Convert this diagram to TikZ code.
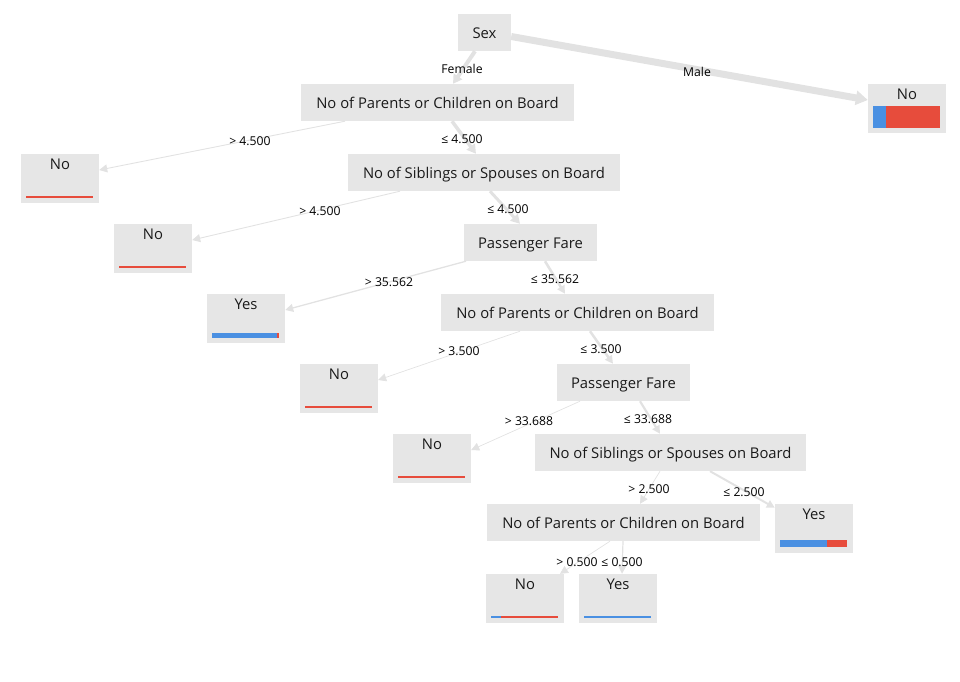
\documentclass[tikz,border=0pt]{standalone}
\usepackage{fontspec}
\setmainfont{Open Sans}
\usetikzlibrary{arrows.meta}
\definecolor{boxgray}{HTML}{E6E6E6}
\definecolor{edgegray}{HTML}{E2E2E2}
\definecolor{barblue}{HTML}{4A90E2}
\definecolor{barred}{HTML}{E74C3C}
\definecolor{txt}{HTML}{1A1A1A}
\tikzset{
  split/.style={fill=boxgray, draw=none, inner sep=0pt, minimum height=37pt, text=txt, text height=12.5pt, text depth=1pt, font=\fontsize{14.8}{17}\selectfont},
  leafbox/.style={fill=boxgray, draw=none, inner sep=0pt, minimum width=78pt, minimum height=49pt},
  leaftitle/.style={anchor=north, inner sep=0pt, text=txt, font=\fontsize{14.8}{17}\selectfont},
  elabel/.style={inner sep=0pt, text=black, font=\fontsize{12.2}{14}\selectfont},
  conn/.style={draw=edgegray, -{Triangle[length=8pt,width=8pt]}},
}
\begin{document}
\begin{tikzpicture}[x=1pt,y=-1pt]
\useasboundingbox (0,0) rectangle (960,681);
% split nodes
\node[split, minimum width=53pt] (sex) at (484.5,32.5) {Sex};
\node[split, minimum width=273pt] (n1) at (437.5,102.5) {No of Parents or Children on Board};
\node[split, minimum width=272pt] (n2) at (484,172.5) {No of Siblings or Spouses on Board};
\node[split, minimum width=133pt] (n3) at (530.5,242.5) {Passenger Fare};
\node[split, minimum width=273pt] (n4) at (577.5,312.5) {No of Parents or Children on Board};
\node[split, minimum width=133pt] (n5) at (623.5,382.5) {Passenger Fare};
\node[split, minimum width=271pt] (n6) at (670.5,452.5) {No of Siblings or Spouses on Board};
\node[split, minimum width=273pt] (n7) at (623.5,522.5) {No of Parents or Children on Board};
% leaves
\node[leafbox] (lm) at (907,108.5) {};
\node[leafbox] (l1) at (60,178.5) {};
\node[leafbox] (l2) at (153,248.5) {};
\node[leafbox] (l3) at (246,318.5) {};
\node[leafbox] (l4) at (339,388.5) {};
\node[leafbox] (l5) at (432,458.5) {};
\node[leafbox] (l6) at (814,528.5) {};
\node[leafbox] (l7) at (525,598.5) {};
\node[leafbox] (l8) at (618,598.5) {};
\node[leaftitle] (tm) at ([yshift=-4.5pt]lm.north) {No};
\node[leaftitle] (t1) at ([yshift=-4.5pt]l1.north) {No};
\node[leaftitle] (t2) at ([yshift=-4.5pt]l2.north) {No};
\node[leaftitle] (t3) at ([yshift=-4.5pt]l3.north) {Yes};
\node[leaftitle] (t4) at ([yshift=-4.5pt]l4.north) {No};
\node[leaftitle] (t5) at ([yshift=-4.5pt]l5.north) {No};
\node[leaftitle] (t6) at ([yshift=-4.5pt]l6.north) {Yes};
\node[leaftitle] (t7) at ([yshift=-4.5pt]l7.north) {No};
\node[leaftitle] (t8) at ([yshift=-4.5pt]l8.north) {Yes};
% bars
\fill[barblue] (873,106) rectangle (886,128);
\fill[barred] (886,106) rectangle (940,128);
\fill[barred] (26,196.2) rectangle (93,198);
\fill[barred] (119,266.2) rectangle (186,268);
\fill[barblue] (212,333) rectangle (277,338);
\fill[barred] (277,333) rectangle (278.5,338);
\fill[barred] (305,406.2) rectangle (372,408);
\fill[barred] (398,476.2) rectangle (465,478);
\fill[barblue] (780,540) rectangle (827,547);
\fill[barred] (827,540) rectangle (847,547);
\fill[barblue] (491,615.8) rectangle (501,617.5);
\fill[barred] (501,615.8) rectangle (558,617.5);
\fill[barblue] (584,616) rectangle (651,617.5);
% connectors
\draw[conn, line width=4pt, -{Triangle[length=9pt,width=10pt]}] ([xshift=-9.5pt]sex.south) -- ([xshift=15.5pt]n1.north);
\draw[conn, line width=7pt, -{Triangle[length=12pt,width=14pt]}] ([yshift=-4pt]sex.east) -- ([yshift=8.5pt]lm.west);
\draw[conn, line width=0.9pt] ([xshift=-92.5pt]n1.south) -- ([yshift=8.5pt]l1.east);
\draw[conn, line width=3.5pt, -{Triangle[length=9pt,width=10pt]}] ([xshift=14.5pt]n1.south) -- ([xshift=-8pt]n2.north);
\draw[conn, line width=0.9pt] ([xshift=-84pt]n2.south) -- ([yshift=8.5pt]l2.east);
\draw[conn, line width=3pt, -{Triangle[length=9pt,width=10pt]}] ([xshift=6pt]n2.south) -- ([xshift=-10.5pt]n3.north);
\draw[conn, line width=1.3pt] ([xshift=-64.5pt]n3.south) -- ([yshift=8.5pt]l3.east);
\draw[conn, line width=2.6pt] ([xshift=14.5pt]n3.south) -- ([xshift=-12.5pt]n4.north);
\draw[conn, line width=0.7pt] ([xshift=-57.5pt]n4.south) -- ([yshift=8.5pt]l4.east);
\draw[conn, line width=2.5pt] ([xshift=12.5pt]n4.south) -- ([xshift=-10.5pt]n5.north);
\draw[conn, line width=0.7pt] ([xshift=-43.5pt]n5.south) -- ([yshift=8.5pt]l5.east);
\draw[conn, line width=2.2pt] ([xshift=16.5pt]n5.south) -- ([xshift=-10.5pt]n6.north);
\draw[conn, line width=0.7pt] ([xshift=-10.5pt]n6.south) -- ([xshift=16.5pt]n7.north);
\draw[conn, line width=2pt] ([xshift=39.5pt]n6.south) -- ([yshift=-4pt]l6.north west);
\draw[conn, line width=0.7pt] ([xshift=-13.5pt]n7.south) -- ([xshift=35pt]l7.north);
\draw[conn, line width=1.2pt] ([xshift=-0.5pt]n7.south) -- ([xshift=4pt]l8.north);
% edge labels
\node[elabel] (e0) at (462,69) {Female};
\node[elabel] (em) at (697,72) {Male};
\node[elabel] (e1) at (250,141) {> 4.500};
\node[elabel] (e2) at (462,139) {≤ 4.500};
\node[elabel] (e3) at (320,211) {> 4.500};
\node[elabel] (e4) at (508,209) {≤ 4.500};
\node[elabel] (e5) at (389,282) {> 35.562};
\node[elabel] (e6) at (555,279) {≤ 35.562};
\node[elabel] (e7) at (459,351) {> 3.500};
\node[elabel] (e8) at (601,349) {≤ 3.500};
\node[elabel] (e9) at (529,421) {> 33.688};
\node[elabel] (e10) at (648,419) {≤ 33.688};
\node[elabel] (e11) at (649,489) {> 2.500};
\node[elabel] (e12) at (744,492) {≤ 2.500};
\node[elabel] (e13) at (577,562) {> 0.500};
\node[elabel] (e14) at (622,562) {≤ 0.500};
\end{tikzpicture}
\end{document}
